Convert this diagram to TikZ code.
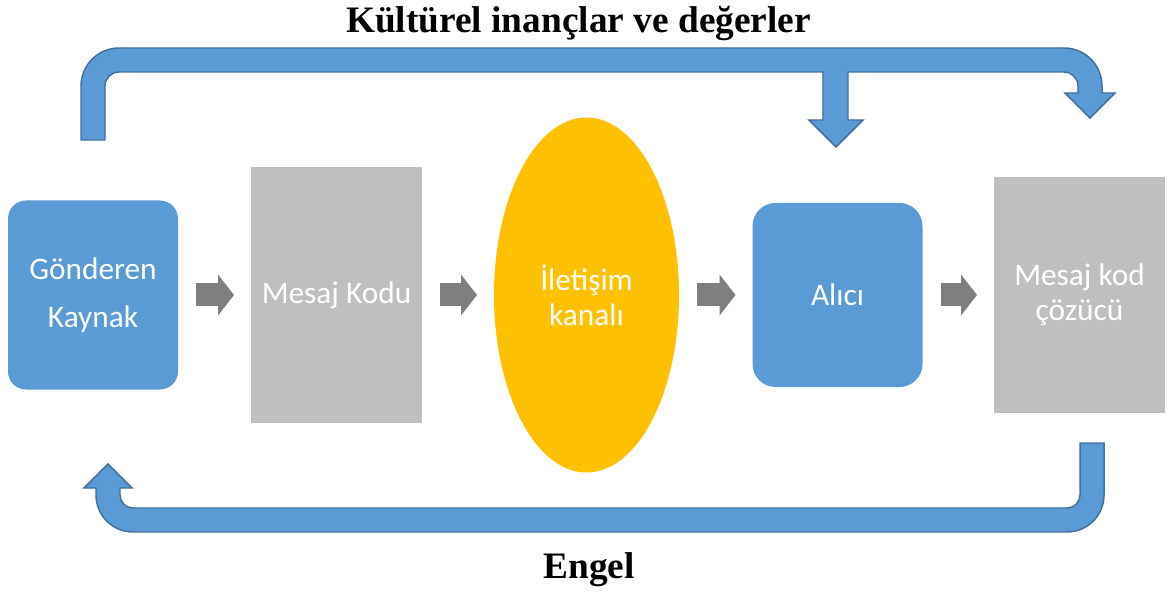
\documentclass[tikz,border=0pt]{standalone}
\usepackage{fontspec}
\setmainfont{Carlito}
\newfontfamily\titlefont{Liberation Serif}
\usetikzlibrary{arrows.meta,shapes.geometric}
\usepackage{xcolor}
\definecolor{boxblue}{HTML}{5B9BD5}
\definecolor{edgeblue}{HTML}{41719C}
\definecolor{boxgray}{HTML}{BFBFBF}
\definecolor{chanyellow}{HTML}{FFC000}
\definecolor{flowgray}{HTML}{7F7F7F}

\begin{document}
\begin{tikzpicture}[x=0.75pt, y=0.75pt,
  % Node Styles
  bnode/.style={rectangle, rounded corners=13.5pt, fill=boxblue, text=white, minimum width=127.5pt, minimum height=141.75pt, align=center, inner sep=0pt, outer sep=0pt},
  gnode/.style={rectangle, fill=boxgray, text=white, minimum width=128.25pt, align=center, inner sep=0pt, outer sep=0pt},
  cnode/.style={ellipse, fill=chanyellow, text=white, minimum width=138.75pt, minimum height=266.25pt, align=center, inner sep=0pt, outer sep=0pt},
  labeltext/.style={font=\titlefont\bfseries\fontsize{28}{32}\selectfont, anchor=base, inner sep=0pt},
  % Arrow Styles
  flowarrow/.style={flowgray, line width=17.25pt, -{Triangle[length=12pt, width=30.75pt, line width=0pt]}, shorten <=13.5pt, shorten >=12.75pt},
  bentarrow/.style={fill=boxblue, draw=edgeblue, line width=1.1pt, line join=miter}
]
\tikzset{font=\fontsize{23.5}{26.25}\selectfont}
\useasboundingbox (0,0) rectangle (1169,600);

% Diagram for: iletisim sureci

\node[labeltext] (culture) at (578.5,567) {Kültürel inançlar ve değerler};
\node[labeltext] (noise) at (589,22) {Engel};

\node[bnode, font=\fontsize{23.5}{36}\selectfont] (src) at (93,305) {Gönderen\\Kaynak};
\node[gnode, minimum height=192pt] (enc) at (336.5,305) {Mesaj Kodu};
\node[cnode] (chan) at (586.5,305) {İletişim\\kanalı};
\node[bnode, minimum height=138pt, rounded corners=17.25pt] (recv) at (837.5,305) {Alıcı};
\node[gnode, minimum height=177pt] (dec) at (1079.5,305) {Mesaj kod\\çözücü};

\draw[flowarrow] (src) -- (enc);
\draw[flowarrow] (enc) -- (chan);
\draw[flowarrow] (chan) -- (recv);
\draw[flowarrow] (recv) -- (dec);

% feedback loops
\draw[bentarrow] (81,460) -- (81,514) arc[start angle=180, end angle=90, radius=38] -- (1064,552) arc[start angle=90, end angle=0, radius=38] -- (1102,507) -- (1115,507) -- (1090,482) -- (1065,507) -- (1078,507) -- (1078,514) arc[start angle=0, end angle=90, radius=14] -- (848,528) -- (848,480) -- (863,480) -- (836,453) -- (809,480) -- (823,480) -- (823,528) -- (119,528) arc[start angle=90, end angle=180, radius=14] -- (105,460) -- cycle;
\draw[bentarrow] (1080,157) -- (1104,157) -- (1104,105) arc[start angle=0, end angle=-90, radius=37] -- (133,68) arc[start angle=270, end angle=180, radius=37] -- (96,112) -- (84,112) -- (108,136) -- (132,112) -- (120,112) -- (120,105) arc[start angle=180, end angle=270, radius=13] -- (1067,92) arc[start angle=270, end angle=360, radius=13] -- cycle;

\end{tikzpicture}
\end{document}
